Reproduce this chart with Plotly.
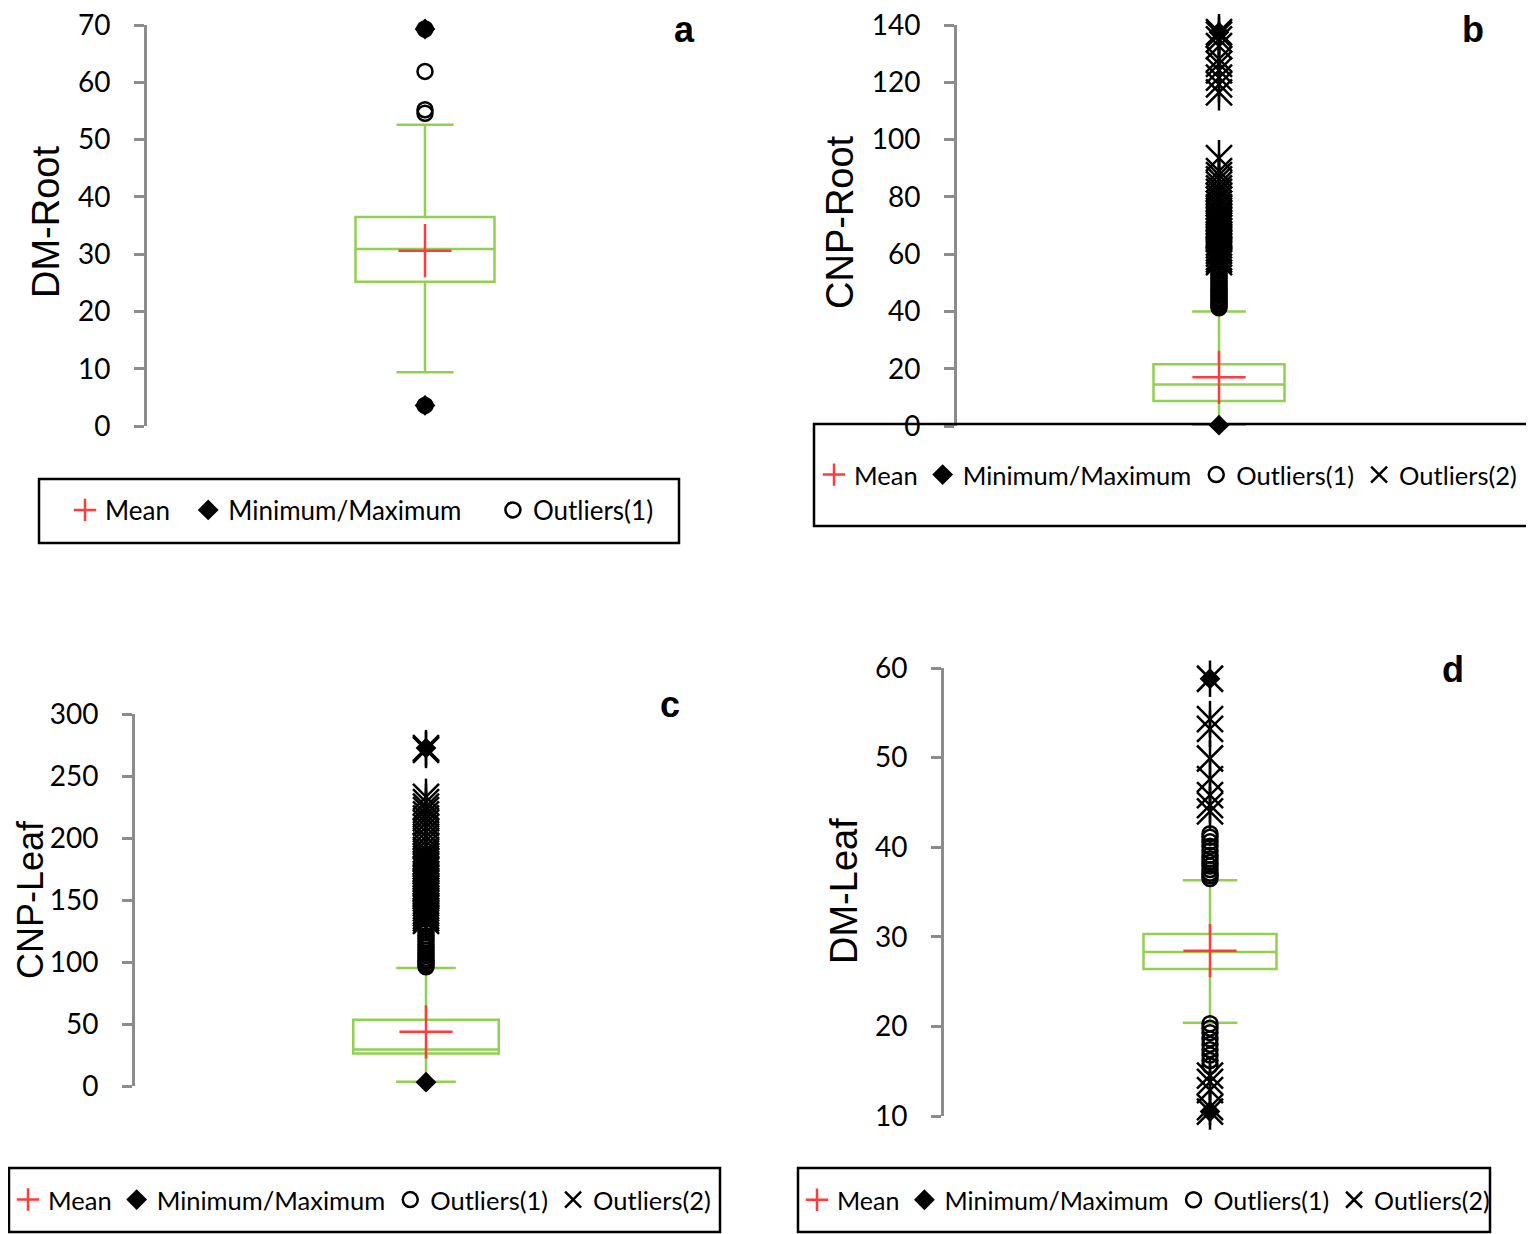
import plotly.graph_objects as go

# the page puts the figure 8 px in from the top-left corner, so it is drawn 8 px smaller
# and every reference pixel position is shifted back by OFF
W, H = 1526, 1226
OFF = 8
GREEN = "#92D050"
RED = "#FF3B3B"
GREY = "#8C8C8C"

# ---- a: DM-Root ----  box = [lower whisker, q1, median, q3, upper whisker]
a_box = [9.4, 25.2, 30.9, 36.5, 52.6]
a_mean = 30.6
a_minmax = [69.3, 3.6]
a_out1 = [69.3, 61.9, 55.2, 54.6, 3.6]
a_out2 = []

# ---- b: CNP-Root ----
b_box = [0.3, 8.7, 14.5, 21.6, 40.0]
b_mean = 17.0
b_minmax = [137.5, 0.3]
b_out1 = [41.3, 41.9, 42.6, 43.4, 44.1, 44.7, 45.5, 46.2, 46.8, 47.6, 48.3, 49.1,
          49.8, 50.6, 51.5, 52.3, 53.1, 54.0, 55.1, 56.2]
b_out2 = [57.2, 58.1, 59.0, 60.2, 61.1, 62.0, 63.1, 64.0, 65.2, 66.1, 67.0, 68.1,
          69.2, 70.0, 71.1, 72.2, 73.0, 74.1, 75.2, 76.4, 77.6, 79.0, 80.3, 81.7,
          83.0, 84.4, 86.1, 87.6, 89.0, 93.5,
          116.5, 119.3, 121.6, 124.2, 126.4, 128.1, 132.6, 135.0, 136.6, 137.5]

# ---- c: CNP-Leaf ----
c_box = [3.4, 26.3, 29.4, 53.4, 95.1]
c_mean = 43.7
c_minmax = [272.5, 3.1]
c_out1 = [96.2, 97.8, 99.3, 101.1, 103.0, 105.2, 107.1, 109.4, 111.8, 114.0, 116.6,
          118.9, 121.2, 123.6, 126.1, 128.4, 130.8]
c_out2 = [133.1, 135.2, 137.0, 139.3, 141.1, 143.2, 145.0, 147.3, 149.1, 151.2, 153.4,
          155.1, 157.3, 159.2, 161.0, 163.4, 165.1, 167.2, 169.3, 171.1, 173.4, 175.2,
          177.1, 179.3, 181.2, 183.4, 185.3, 187.6, 190.4, 193.8, 197.7, 201.2, 205.0,
          208.8, 212.3, 215.9, 219.1, 222.4, 225.3, 229.0, 233.2, 271.0, 272.5]

# ---- d: DM-Leaf ----
d_box = [20.4, 26.4, 28.3, 30.3, 36.3]
d_mean = 28.45
d_minmax = [58.8, 10.5]
d_out1 = [36.5, 36.8, 37.1, 37.5, 37.9, 38.3, 38.7, 39.1, 39.6, 40.1, 40.6, 41.1, 41.5,
          20.3, 19.8, 19.3, 18.6, 18.0, 17.4, 16.8, 16.2, 15.6]
d_out2 = [58.8, 54.3, 53.2, 49.9, 47.6, 45.8, 44.7, 44.0,
          14.5, 13.8, 12.9, 11.0, 10.5]

NB = "\u00a0"

# pixel positions of each panel (from the top-left corner of the picture)
panels = [
    dict(title="DM-Root", letter="a", box=a_box, mean=a_mean, minmax=a_minmax, out1=a_out1, out2=a_out2,
         yr=[0, 70], dtick=10, ax=147, cx=425, top=25, bot=426, pads=(NB * 2, NB * 4), leg_font=26,
         title_xy=(46, 222), title_size=38, letter_xy=(684, 30), leg_xy=(85, 510),
         leg_box=(39, 479, 679, 543)),
    dict(title="CNP-Root", letter="b", box=b_box, mean=b_mean, minmax=b_minmax, out1=b_out1, out2=b_out2,
         yr=[0, 140], dtick=20, ax=957, cx=1219, top=25, bot=426, pads=("", ""), leg_font=25.5,
         title_xy=(840, 222), title_size=38, letter_xy=(1473, 30), leg_xy=(834, 475),
         leg_box=(814, 424, 1532, 526)),
    dict(title="CNP-Leaf", letter="c", box=c_box, mean=c_mean, minmax=c_minmax, out1=c_out1, out2=c_out2,
         yr=[0, 300], dtick=50, ax=135, cx=426, top=714, bot=1086, pads=("", ""), leg_font=25.5,
         title_xy=(30, 900), title_size=36, letter_xy=(670, 704), leg_xy=(28, 1200),
         leg_box=(9, 1168, 720, 1232)),
    dict(title="DM-Leaf", letter="d", box=d_box, mean=d_mean, minmax=d_minmax, out1=d_out1, out2=d_out2,
         yr=[10, 60], dtick=10, ax=944, cx=1210, top=668, bot=1116, pads=("", ""), leg_font=25,
         title_xy=(844, 891), title_size=38, letter_xy=(1453, 669), leg_xy=(817, 1200),
         leg_box=(798, 1168, 1490, 1232)),
]


def px(x):
    return (x - OFF) / W


def py(y):
    return 1 - (y - OFF) / H


fig = go.Figure()
layout = dict(template="none", width=W, height=H, margin=dict(l=0, r=0, t=0, b=0, autoexpand=False),
              paper_bgcolor="white", plot_bgcolor="white", showlegend=True)
annotations = []
shapes = []

for i, p in enumerate(panels, start=1):
    sfx = "" if i == 1 else str(i)
    xa, ya, lg = "x" + sfx, "y" + sfx, "legend" + sfx

    fig.add_trace(go.Box(x=[0], orientation="v", lowerfence=[p["box"][0]], q1=[p["box"][1]],
                         median=[p["box"][2]], q3=[p["box"][3]], upperfence=[p["box"][4]],
                         width=0.5, whiskerwidth=0.41, line=dict(color=GREEN, width=2.5),
                         fillcolor="rgba(0,0,0,0)", boxpoints=False, showlegend=False,
                         hoverinfo="skip", xaxis=xa, yaxis=ya))
    fig.add_trace(go.Scatter(x=[0], y=[p["mean"]], mode="markers", name="Mean" + p["pads"][0],
                             legend=lg,
                             marker=dict(symbol="cross-thin", size=38, color=RED,
                                         line=dict(color=RED, width=2.5)),
                             cliponaxis=False, xaxis=xa, yaxis=ya))
    fig.add_trace(go.Scatter(x=[0] * len(p["minmax"]), y=p["minmax"], mode="markers",
                             name="Minimum/Maximum" + p["pads"][1], legend=lg,
                             marker=dict(symbol="diamond", size=16, color="black"),
                             cliponaxis=False, xaxis=xa, yaxis=ya))
    fig.add_trace(go.Scatter(x=[0] * len(p["out1"]), y=p["out1"], mode="markers",
                             name="Outliers(1)", legend=lg,
                             marker=dict(symbol="circle-open", size=15, color="black",
                                         line=dict(width=2.5)),
                             cliponaxis=False, xaxis=xa, yaxis=ya))
    if p["out2"]:
        fig.add_trace(go.Scatter(x=[0] * len(p["out2"]), y=p["out2"], mode="markers",
                                 name="Outliers(2)", legend=lg,
                                 marker=dict(symbol="x-thin", size=26, color="black",
                                             line=dict(color="black", width=2.5)),
                                 cliponaxis=False, xaxis=xa, yaxis=ya))
        fig.add_trace(go.Scatter(x=[0] * len(p["out2"]), y=p["out2"], mode="markers",
                                 showlegend=False,
                                 marker=dict(symbol="line-ns", size=26, color="black",
                                             line=dict(color="black", width=2.5)),
                                 cliponaxis=False, xaxis=xa, yaxis=ya))

    right = p["ax"] + 2 * (p["cx"] - p["ax"])
    layout["xaxis" + sfx] = dict(domain=[px(p["ax"]), px(right)], range=[-1, 1], visible=False,
                                 anchor=ya, fixedrange=True, automargin=False)
    layout["yaxis" + sfx] = dict(domain=[py(p["bot"]), py(p["top"])], range=p["yr"],
                                 dtick=p["dtick"], anchor=xa, showgrid=False, zeroline=False,
                                 showline=True, linecolor=GREY, linewidth=3, ticks="outside",
                                 ticklen=10, tickwidth=3, tickcolor=GREY, ticklabelstandoff=18,
                                 ticklabeloverflow="allow", automargin=False,
                                 tickfont=dict(family="Lato", size=28, color="black"))
    # inner half of the crossing ticks
    layout["yaxis" + str(i + 4)] = dict(overlaying=ya, matches=ya, anchor=xa, side="left",
                                        range=p["yr"], dtick=p["dtick"], showgrid=False,
                                        zeroline=False, showline=False, ticks="inside",
                                        ticklen=10, tickwidth=3, tickcolor=GREY,
                                        showticklabels=False, automargin=False)

    layout[lg] = dict(orientation="h", x=max(px(p["leg_xy"][0] - 20), 0), y=py(p["leg_xy"][1]),
                      xanchor="left", yanchor="middle", bgcolor="rgba(0,0,0,0)", borderwidth=0,
                      font=dict(family="Lato", size=p["leg_font"], color="black"),
                      itemsizing="trace")

    x0, y0, x1, y1 = p["leg_box"]
    shapes.append(dict(type="rect", xref="paper", yref="paper", x0=px(x0), x1=px(x1),
                       y0=py(y0), y1=py(y1), line=dict(color="black", width=2.5)))

    annotations.append(dict(text=p["title"], xref="paper", yref="paper",
                            x=px(p["title_xy"][0]), y=py(p["title_xy"][1]),
                            xanchor="center", yanchor="middle", textangle=-90, showarrow=False,
                            font=dict(family="Liberation Sans", size=p["title_size"], color="black")))
    annotations.append(dict(text="<b>%s</b>" % p["letter"], xref="paper", yref="paper",
                            x=px(p["letter_xy"][0]), y=py(p["letter_xy"][1]),
                            xanchor="center", yanchor="middle", showarrow=False,
                            font=dict(family="Liberation Sans", size=36, color="black")))

layout["annotations"] = annotations
layout["shapes"] = shapes
fig.update_layout(**layout)

fig.write_html("out.html")
